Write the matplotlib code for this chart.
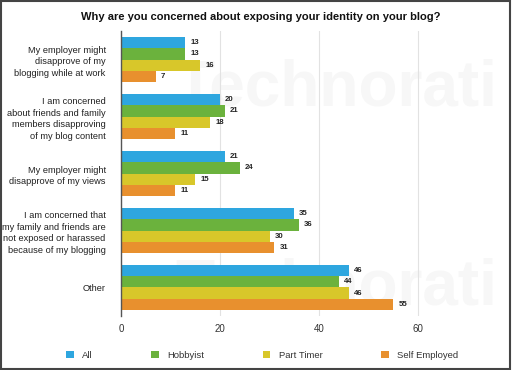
import matplotlib
matplotlib.use("Agg")
import matplotlib.pyplot as plt
from matplotlib.patches import Rectangle
import numpy as np

plt.rcParams["font.family"] = ["Liberation Sans", "DejaVu Sans"]

categories = [
    "My employer might\ndisapprove of my\nblogging while at work",
    "I am concerned\nabout friends and family\nmembers disapproving\nof my blog content",
    "My employer might\ndisapprove of my views",
    "I am concerned that\nmy family and friends are\nnot exposed or harassed\nbecause of my blogging",
    "Other",
]
series_names = ["All", "Hobbyist", "Part Timer", "Self Employed"]
all_vals = [13, 20, 21, 35, 46]
hobbyist_vals = [13, 21, 24, 36, 44]
part_timer_vals = [16, 18, 15, 30, 46]
self_employed_vals = [7, 11, 11, 31, 55]
xticks = [0, 20, 40, 60]

series = [all_vals, hobbyist_vals, part_timer_vals, self_employed_vals]
colors = ["#2EA6DF", "#6BB23D", "#D8C72A", "#E8902E"]

fig = plt.figure(figsize=(5.12, 3.70), dpi=100)
fig.patch.set_facecolor("white")
fig.patches.append(Rectangle((0.002, 0.003), 0.994, 0.994, transform=fig.transFigure,
                             fill=False, edgecolor="#444444", linewidth=1.5))

ax = fig.add_axes([0.2363, 0.146, 0.677, 0.770])
ax.set_facecolor("none")

# faint watermark behind bars
ax.text(0.62, 0.80, "Technorati", transform=ax.transAxes, fontsize=46, color="#f7f7f7",
        ha="center", va="center", fontweight="bold", zorder=0)
ax.text(0.62, 0.10, "Technorati", transform=ax.transAxes, fontsize=46, color="#f7f7f7",
        ha="center", va="center", fontweight="bold", zorder=0)

y = np.arange(len(categories))
h = 0.2
for i, (vals, c, name) in enumerate(zip(series, colors, series_names)):
    pos = y - 0.4 + h * (i + 0.5)
    ax.barh(pos, vals, height=h, color=c, label=name, zorder=2)
    for p, v in zip(pos, vals):
        ax.text(v + 1.0, p, str(v), va="center", ha="left", fontsize=5.6,
                color="#222222", fontweight="bold", zorder=3)

ax.set_xlim(0, 70)
ax.set_ylim(len(categories) - 0.5, -0.5)
ax.set_xticks(xticks)
ax.set_xticklabels([str(t) for t in xticks], fontsize=7, color="#333333")
ax.set_yticks(y)
ax.set_yticklabels(categories, fontsize=6.7, color="#222222", linespacing=1.4)
ax.tick_params(length=0, pad=6)
ax.tick_params(axis="y", pad=11)
ax.grid(axis="x", color="#e2e2e2", linewidth=0.8, zorder=1)
for s in ["top", "right", "bottom"]:
    ax.spines[s].set_visible(False)
ax.spines["left"].set_color("#555555")
ax.spines["left"].set_linewidth(1.0)
ax.spines["left"].set_zorder(4)

fig.text(0.51, 0.955, "Why are you concerned about exposing your identity on your blog?",
         ha="center", va="center", fontsize=8, fontweight="bold", color="#111111")

handles, labels = ax.get_legend_handles_labels()
fig.legend(handles, labels, loc="center", bbox_to_anchor=(0.512, 0.04), ncol=4,
           frameon=False, fontsize=6.8, handlelength=0.8, handleheight=0.8,
           handletextpad=0.9, columnspacing=6.2, labelcolor="#333333")

fig.savefig("out.png", dpi=100, facecolor="white")
